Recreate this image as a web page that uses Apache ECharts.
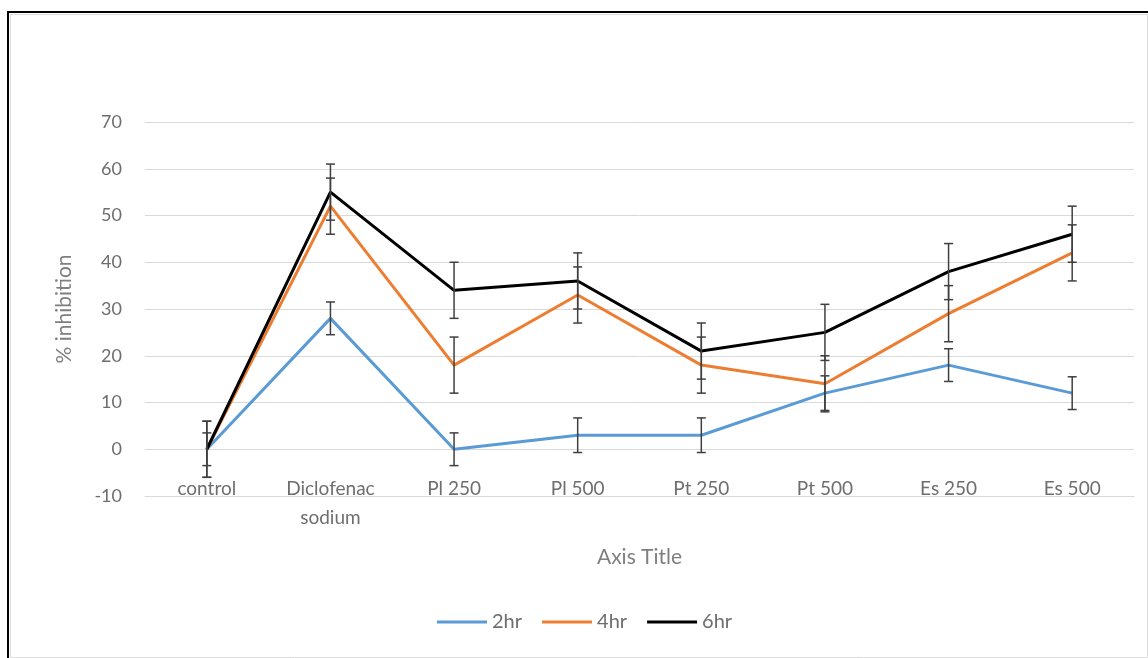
<!DOCTYPE html>
<html>
<head>
<meta charset="utf-8">
<title>% inhibition</title>
<script src="https://cdn.jsdelivr.net/npm/echarts@6/dist/echarts.min.js"></script>
<style>
  html, body { margin: 0; padding: 0; background: #ffffff; }
  #chart { width: 1148px; height: 658px; }
</style>
</head>
<body>
<div id="chart"></div>
<script>
// Treatment groups along the horizontal axis
const categories = ['control', 'Diclofenac\nsodium', 'Pl 250', 'Pl 500', 'Pt 250', 'Pt 500', 'Es 250', 'Es 500'];

// Percent inhibition at each time point
const inhibition2hr = [0, 28, 0, 3, 3, 12, 18, 12];
const inhibition4hr = [0, 52, 18, 33, 18, 14, 29, 42];
const inhibition6hr = [0, 55, 34, 36, 21, 25, 38, 46];

// Error bar half-widths (± value) per time point
const err2hr = [3.5, 3.5, 3.5, 3.7, 3.7, 3.7, 3.5, 3.5];
const err4hr = [6, 6, 6, 6, 6, 6, 6, 6];
const err6hr = [6, 6, 6, 6, 6, 6, 6, 6];

// Y-axis ticks
const yMin = -10;
const yMax = 70;
const yStep = 10;

const seriesNames = ['2hr', '4hr', '6hr'];
const seriesColors = ['#5b9bd5', '#ed7d31', '#000000'];
const values = [inhibition2hr, inhibition4hr, inhibition6hr];
const errors = [err2hr, err4hr, err6hr];

const FONT = 'Lato, "Open Sans", sans-serif';

function errorBarData(vals, errs) {
  return vals.map((v, i) => [i, v - errs[i], v + errs[i]]);
}

function renderErrorBar(params, api) {
  const x = api.value(0);
  const lo = api.coord([x, api.value(1)]);
  const hi = api.coord([x, api.value(2)]);
  const cap = 4.5;
  const style = { stroke: '#3f3f3f', lineWidth: 1.5 };
  return {
    type: 'group',
    children: [
      { type: 'line', shape: { x1: hi[0], y1: hi[1], x2: lo[0], y2: lo[1] }, style },
      { type: 'line', shape: { x1: hi[0] - cap, y1: hi[1], x2: hi[0] + cap, y2: hi[1] }, style },
      { type: 'line', shape: { x1: lo[0] - cap, y1: lo[1], x2: lo[0] + cap, y2: lo[1] }, style }
    ]
  };
}

const lineSeries = seriesNames.map((name, k) => ({
  name,
  type: 'line',
  data: values[k],
  symbol: 'none',
  z: 2,
  lineStyle: { color: seriesColors[k], width: 3 },
  itemStyle: { color: seriesColors[k] }
}));

const errorSeries = seriesNames.map((name, k) => ({
  type: 'custom',
  name: name + ' error',
  data: errorBarData(values[k], errors[k]),
  renderItem: renderErrorBar,
  encode: { x: 0, y: [1, 2] },
  z: 3,
  silent: true
}));

const chart = echarts.init(document.getElementById('chart'), null, { renderer: 'canvas' });

chart.setOption({
  backgroundColor: '#ffffff',
  animation: false,
  textStyle: { fontFamily: FONT },
  graphic: [
    // chart area outline
    { type: 'rect', shape: { x: 10.5, y: 14.5, width: 1137, height: 643 },
      style: { fill: 'none', stroke: '#dcdcdc', lineWidth: 1 }, silent: true },
    // dark frame along top and left
    { type: 'rect', shape: { x: 7, y: 11, width: 1141, height: 2 }, style: { fill: '#000' }, silent: true },
    { type: 'rect', shape: { x: 7, y: 11, width: 2, height: 647 }, style: { fill: '#000' }, silent: true }
  ],
  grid: { left: 145, right: 14, top: 122, bottom: 162, containLabel: false },
  legend: {
    data: seriesNames,
    bottom: 21,
    left: 432,
    itemWidth: 50,
    itemHeight: 3,
    itemGap: 20,
    icon: 'rect',
    textStyle: { color: '#6e6e6e', fontSize: 20, fontFamily: FONT }
  },
  xAxis: {
    type: 'category',
    data: categories,
    boundaryGap: true,
    name: 'Axis Title',
    nameLocation: 'middle',
    nameGap: 51,
    nameTextStyle: { color: '#7f7f7f', fontSize: 21, fontFamily: FONT },
    axisLine: { onZero: false, lineStyle: { color: '#d9d9d9', width: 1 } },
    axisTick: { show: false },
    axisLabel: { color: '#6e6e6e', fontSize: 19, lineHeight: 29, margin: -22, fontFamily: FONT, interval: 0 },
    splitLine: { show: false }
  },
  yAxis: {
    type: 'value',
    min: yMin,
    max: yMax,
    interval: yStep,
    name: '% inhibition',
    nameLocation: 'middle',
    nameRotate: 90,
    nameGap: 70,
    nameTextStyle: { color: '#7f7f7f', fontSize: 21, fontFamily: FONT },
    axisLine: { show: false },
    axisTick: { show: false },
    axisLabel: { color: '#6e6e6e', fontSize: 18, margin: 23, fontFamily: FONT },
    splitLine: { lineStyle: { color: '#d9d9d9', width: 1 } }
  },
  series: [...lineSeries, ...errorSeries]
});
</script>
</body>
</html>
